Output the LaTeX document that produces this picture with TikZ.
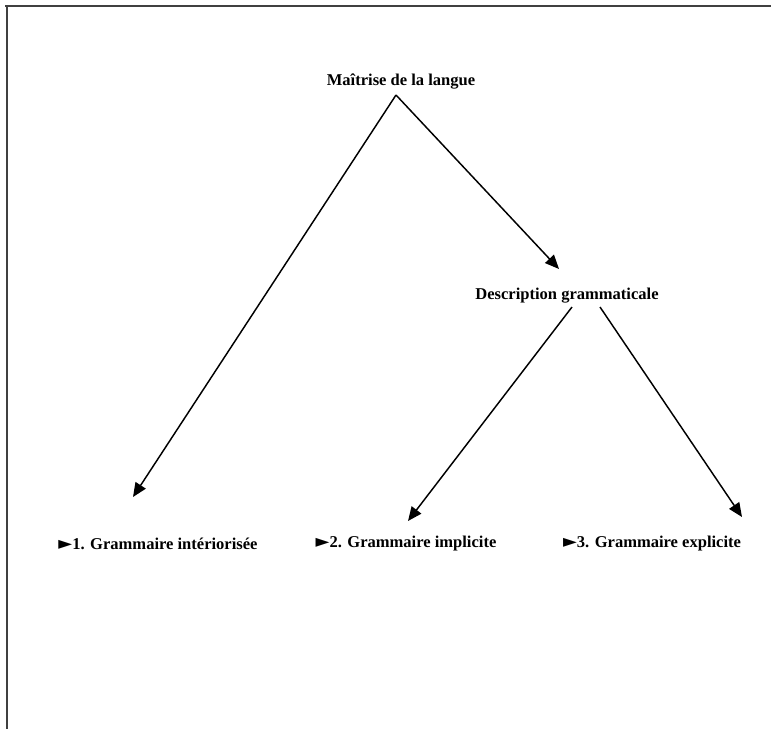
\documentclass[tikz,border=0pt]{standalone}
\usepackage{fontspec}
\setmainfont{Liberation Serif}
\newfontfamily\symfont{DejaVu Sans}
\usetikzlibrary{arrows.meta}
\tikzset{
  lbl/.style={font=\bfseries\fontsize{12.4}{14}\selectfont, inner sep=1pt},
  arr/.style={line width=1.1pt, -{Triangle[length=10.5pt,width=9pt]}},
  frame/.style={line width=1.1pt, draw=black!75}
}
\newcommand{\bul}{{\symfont\fontsize{13.5}{14}\selectfont ►}}
\begin{document}
\begin{tikzpicture}[x=0.75pt,y=-0.75pt]
\useasboundingbox (0,0) rectangle (771,729);
\draw[frame] (5,6) -- (771,6);
\draw[frame] (7,6) -- (7,729);
\node[lbl] (m) at (401,81) {Maîtrise de la langue};
\node[lbl] (d) at (567,296) {Description grammaticale};
\node[lbl] (g1) at (158,544) {\bul 1. Grammaire intériorisée};
\node[lbl] (g2) at (406,544) {\bul 2. Grammaire implicite};
\node[lbl] (g3) at (652,544) {\bul 3. Grammaire explicite};
\coordinate (mA) at (396,95);
\coordinate (e1) at (133,497);
\coordinate (eD) at (559,269);
\coordinate (dL) at (572,307);
\coordinate (dR) at (600,307);
\coordinate (e2) at (408,521);
\coordinate (e3) at (742,517);
\draw[arr] (mA) -- (e1);
\draw[arr] (mA) -- (eD);
\draw[arr] (dL) -- (e2);
\draw[arr] (dR) -- (e3);
\end{tikzpicture}
\end{document}
